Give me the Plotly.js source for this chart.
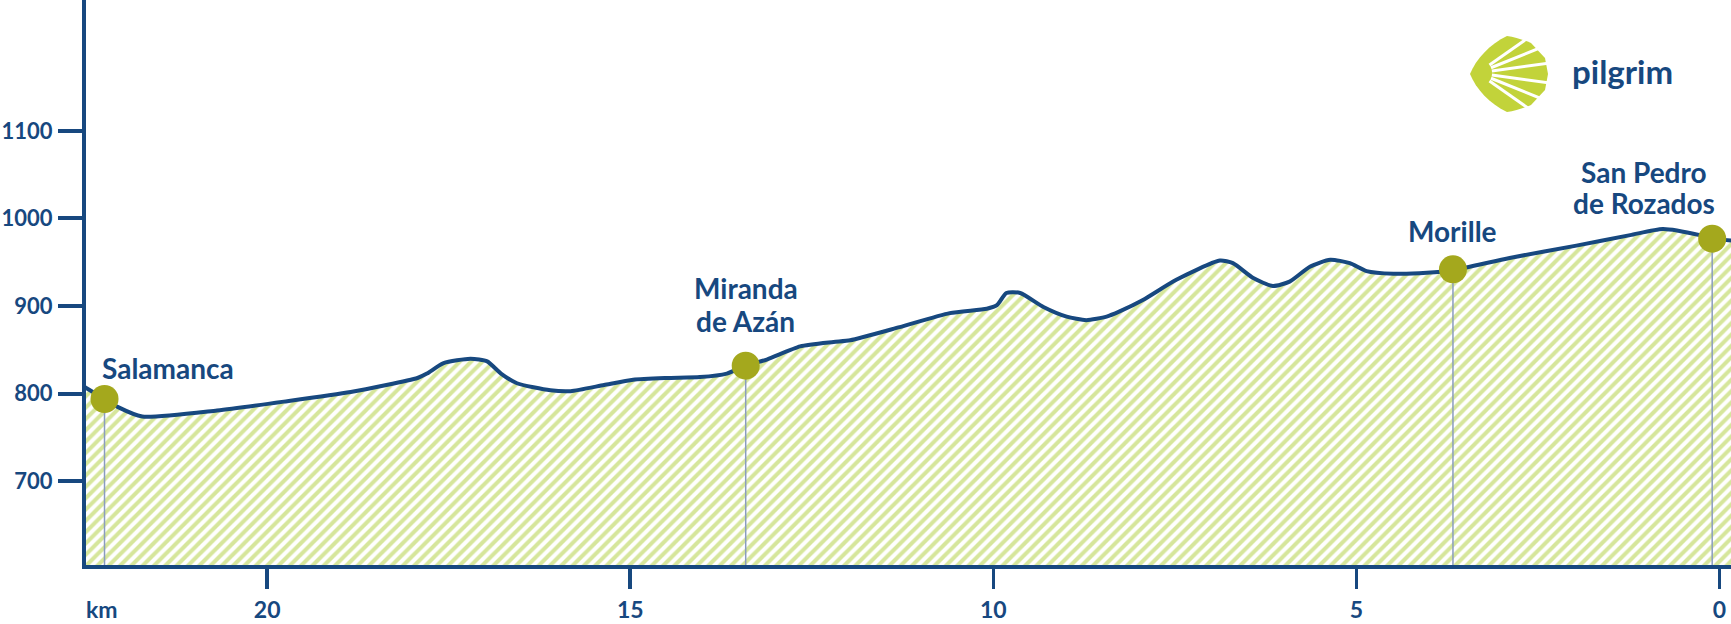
<!DOCTYPE html>
<html><head><meta charset="utf-8">
<script src="https://cdn.plot.ly/plotly-3.0.1.min.js"></script>
<style>html,body{margin:0;padding:0;background:#fff;} #chart{width:1731px;height:624px;}</style>
</head><body><div id="chart"></div>
<script>
// ---- data ----
const distanceKm = [22.52, 22.24, 22.06, 21.72, 20.69, 19.77, 18.85, 17.93, 17.80, 17.57, 17.20, 16.97, 16.78, 16.56, 16.10, 15.82, 15.36, 14.96, 14.50, 14.04, 13.67, 13.41, 13.12, 12.66, 12.20, 11.97, 11.29, 10.60, 10.09, 9.95, 9.82, 9.63, 9.31, 8.99, 8.72, 8.44, 8.26, 7.94, 7.48, 6.88, 6.70, 6.42, 6.15, 5.92, 5.64, 5.36, 5.09, 4.86, 4.49, 4.03, 3.67, 2.89, 1.97, 1.23, 0.78, 0.27, 0.10, -0.16];
const elevationM = [808, 794, 785, 774, 781, 791, 802, 818, 823, 835, 840, 837, 823, 812, 804, 803, 810, 816, 818, 819, 823, 832, 839, 854, 859, 861, 876, 892, 897, 901, 915, 915, 899, 888, 884, 888, 894, 907, 930, 952, 949, 932, 923, 928, 945, 953, 949, 940, 937, 938, 941, 955, 969, 981, 988, 981, 977, 975];
const townKm = [22.24, 13.41, 3.67, 0.10];
const townElevation = [794, 832, 942, 977];
const townLabelLines = [['Salamanca'], ['Miranda', 'de Azán'], ['Morille'], ['San Pedro', 'de Rozados']];
const xTickVals = [20, 15, 10, 5, 0];
const yTickVals = [700, 800, 900, 1000, 1100];
const xUnitLabel = 'km';
const brandName = 'pilgrim';

// ---- styles ----
const BLUE = '#17487f';
const OLIVE = '#a4a81d';
const HATCH = '#d6e69b';
const LOGO_GREEN = '#c2d33a';
const FONT = 'Lato, "Open Sans", sans-serif';
const W = 1731, H = 624;
const M = {l: 86, r: 0, t: 0, b: 59};
const plotW = W - M.l - M.r, plotH = H - M.t - M.b;
const xRange = [22.495, -0.159];
const yRange = [604.6, 1249.3];
const px2x = px => (px - M.l) / plotW;
const px2y = py => 1 - (py - M.t) / plotH;

// label placement (style): x offset and baseline-above-marker per line
const labelStyle = [
  {xanchor: 'left', xshift: -4, above: [19.7]},
  {xanchor: 'center', xshift: 0, above: [66.5, 33.5]},
  {xanchor: 'center', xshift: 0, above: [27.6]},
  {xanchor: 'center', xshift: -68, above: [56, 25]}
];
const LABEL_SIZE = 28;
const baseToMid = LABEL_SIZE * (0.987 - 0.6);

const dropX = [], dropY = [];
townKm.forEach((k, i) => { dropX.push(k, k, null); dropY.push(townElevation[i], yRange[0], null); });

const traces = [
  {x: distanceKm, y: elevationM, type: 'scatter', mode: 'lines',
   line: {color: BLUE, width: 4, shape: 'spline', smoothing: 0.6},
   fill: 'tozeroy', fillcolor: HATCH,
   fillpattern: {shape: '/', fgcolor: HATCH, bgcolor: '#ffffff', size: 8, solidity: 0.5},
   hoverinfo: 'skip'},
  {x: dropX, y: dropY, type: 'scatter', mode: 'lines',
   line: {color: '#8a9cbf', width: 1.5}, hoverinfo: 'skip'},
  {x: townKm, y: townElevation, type: 'scatter', mode: 'markers',
   marker: {color: OLIVE, size: 28, line: {width: 0}}, cliponaxis: false, hoverinfo: 'skip'}
];

const annotations = [];
townLabelLines.forEach((lines, i) => {
  const st = labelStyle[i];
  lines.forEach((t, j) => {
    annotations.push({
      x: townKm[i], y: townElevation[i], xref: 'x', yref: 'y', text: t, showarrow: false,
      xanchor: st.xanchor, yanchor: 'middle', xshift: st.xshift, yshift: st.above[j] + baseToMid,
      borderpad: 0, font: {family: FONT, size: LABEL_SIZE, color: BLUE, weight: 700}
    });
  });
});
annotations.push({
  x: px2x(85), y: px2y(609), xref: 'paper', yref: 'paper', xanchor: 'left', yanchor: 'middle',
  text: xUnitLabel, showarrow: false, borderpad: 0, font: {family: FONT, size: 23, color: BLUE, weight: 700}
});
annotations.push({
  x: px2x(1570), y: px2y(83.3 - 33 * (0.987 - 0.6)), xref: 'paper', yref: 'paper', xanchor: 'left', yanchor: 'middle',
  text: brandName, showarrow: false, font: {family: FONT, size: 33, color: BLUE, weight: 700}
});

// logo shell (decorative)
let rays = '';
[-35, -22, -8, 8, 22, 35].forEach(a => {
  const r = a * Math.PI / 180, fx = 10, fy = 38;
  rays += `<line x1="${fx + 14 * Math.cos(r)}" y1="${fy + 14 * Math.sin(r)}" x2="${fx + 90 * Math.cos(r)}" y2="${fy + 90 * Math.sin(r)}"/>`;
});
const shellSvg = `<svg xmlns="http://www.w3.org/2000/svg" width="80" height="78" viewBox="0 0 80 78">` +
  `<path d="M2,39 C8,24 22,9 39,1 C47,2 56,5 63,8 L77,23 L80,39 L77,55 L63,70 C56,73 47,76 39,77 C22,69 8,54 2,39 Z" fill="${LOGO_GREEN}"/>` +
  `<g stroke="#fff" stroke-width="3">${rays.replace(/38/g, '39')}</g></svg>`;

const axisCommon = {
  showline: true, linecolor: BLUE, linewidth: 4, showgrid: false, zeroline: false,
  ticks: 'outside', tickcolor: BLUE, fixedrange: true
};

const layout = {
  width: W, height: H, margin: M, showlegend: false,
  paper_bgcolor: '#ffffff', plot_bgcolor: '#ffffff',
  xaxis: Object.assign({}, axisCommon, {
    range: xRange, tickmode: 'array', tickvals: xTickVals, ticklen: 20, tickwidth: 3.5,
    tickfont: {family: FONT, size: 23, color: BLUE, weight: 700}, ticklabelstandoff: 1
  }),
  yaxis: Object.assign({}, axisCommon, {
    range: yRange, tickmode: 'array', tickvals: yTickVals, ticklen: 24, tickwidth: 4,
    tickfont: {family: FONT, size: 22, color: BLUE, weight: 700}, ticklabelstandoff: 1
  }),
  annotations: annotations,
  images: [{
    source: 'data:image/svg+xml;charset=utf-8,' + encodeURIComponent(shellSvg),
    xref: 'paper', yref: 'paper', x: px2x(1468), y: px2y(35),
    sizex: 80 / plotW, sizey: 78 / plotH, xanchor: 'left', yanchor: 'top', sizing: 'stretch', layer: 'above'
  }]
};

Plotly.newPlot('chart', traces, layout, {staticPlot: true, displayModeBar: false});
</script></body></html>
